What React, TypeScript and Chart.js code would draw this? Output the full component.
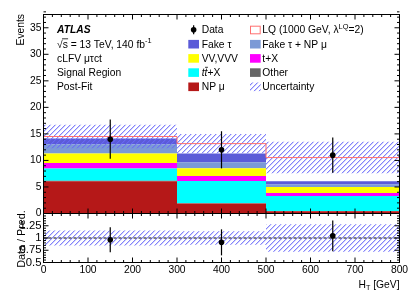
import React, { useEffect, useRef } from 'react';
import { Chart, registerables } from 'chart.js';

Chart.register(...registerables);

// ---------------- data ----------------
const binEdges = [0, 300, 500, 800];
const npMu = [6.08, 1.88, 0.43];
const otherBkg = [0.08, 0.06, 0.05];
const ttbarX = [2.31, 4.19, 2.83];
const singleTopX = [1.05, 0.94, 0.57];
const dibosonTriboson = [1.77, 1.45, 1.12];
const fakeTauNpMu = [1.75, 1.13, 0.46];
const fakeTau = [1.07, 1.64, 0.62];
const lqSignal = [0.4, 1.88, 4.46];
const totalUnc = [2.2, 1.82, 2.97];
const dataX = [150, 400, 650];
const dataY = [14, 12, 11];
const dataErr = [3.7, 3.5, 3.3];
const xTickLabels = [0, 100, 200, 300, 400, 500, 600, 700, 800];
const yMainTickLabels = [0, 5, 10, 15, 20, 25, 30, 35];
const yRatioTickLabels = [0.5, 0.75, 1, 1.25];

const FF = '"Liberation Sans", Arial, Helvetica, sans-serif';
const font = (size: number, style = '') => `${style} ${size}px ${FF}`.trim();
const FS = 10.3;

const stackDefs = [
  { label: 'NP μ', values: npMu, color: '#b51818' },
  { label: 'Other', values: otherBkg, color: '#666666' },
  { label: 'tt+X', values: ttbarX, color: '#00ffff' },
  { label: 't+X', values: singleTopX, color: '#ff00ff' },
  { label: 'VV,VVV', values: dibosonTriboson, color: '#ffff00' },
  { label: 'Fake τ + NP μ', values: fakeTauNpMu, color: '#7b9ad6' },
  { label: 'Fake τ', values: fakeTau, color: '#5b5bd8' },
];

const COLORS = {
  lq: '#ff6f6f',
  hatch: [105, 105, 250],
};

function stepPoints(vals: number[]) {
  return binEdges.map((x, i) => ({ x, y: vals[Math.min(i, vals.length - 1)] }));
}

function makeHatch(rgb: number[]) {
  const s = 5;
  const c = document.createElement('canvas');
  c.width = s;
  c.height = s;
  const g = c.getContext('2d')!;
  const img = g.createImageData(s, s);
  for (let j = 0; j < s; j++) {
    for (let i = 0; i < s; i++) {
      const k = (j * s + i) * 4;
      const m = (i + j) % s;
      img.data[k] = rgb[0];
      img.data[k + 1] = rgb[1];
      img.data[k + 2] = rgb[2];
      img.data[k + 3] = m === s - 1 ? 210 : m === 0 ? 80 : 0;
    }
  }
  g.putImageData(img, 0, 0);
  return g.createPattern(c, 'repeat')!;
}

type Seg = { t: string; f?: string; dy?: number; over?: boolean };
function drawRich(ctx: CanvasRenderingContext2D, x: number, y: number, segs: Seg[], baseFont: string) {
  let cx = x;
  for (const s of segs) {
    ctx.font = s.f || baseFont;
    ctx.fillText(s.t, cx, y + (s.dy || 0));
    const w = ctx.measureText(s.t).width;
    if (s.over) {
      ctx.save();
      ctx.lineWidth = 0.8;
      ctx.strokeStyle = ctx.fillStyle as string;
      ctx.beginPath();
      ctx.moveTo(cx + 0.5, y - 8.6);
      ctx.lineTo(cx + w + 0.5, y - 8.6);
      ctx.stroke();
      ctx.restore();
    }
    cx += w;
  }
  return cx;
}
function richWidth(ctx: CanvasRenderingContext2D, segs: Seg[], baseFont: string) {
  let w = 0;
  for (const s of segs) {
    ctx.font = s.f || baseFont;
    w += ctx.measureText(s.t).width;
  }
  return w;
}

export default function App() {
  const ref = useRef<HTMLCanvasElement>(null);

  useEffect(() => {
    const canvas = ref.current!;
    const hatch = makeHatch(COLORS.hatch);

    // cumulative stack
    let cum = [0, 0, 0];
    const stackDatasets: any[] = stackDefs.map((d, i) => {
      cum = cum.map((c, j) => c + d.values[j]);
      return {
        type: 'line',
        label: d.label,
        data: stepPoints(cum),
        yAxisID: 'y',
        stepped: 'before',
        fill: i === 0 ? 'origin' : '-1',
        backgroundColor: d.color,
        borderWidth: 0,
        pointRadius: 0,
        order: 5,
      };
    });
    const bkgTotal = cum.slice();
    const pred = bkgTotal.map((b, i) => b + lqSignal[i]);

    const datasets: any[] = [
      ...stackDatasets,
      {
        type: 'line', label: 'uncLow', data: stepPoints(pred.map((p, i) => p - totalUnc[i])),
        yAxisID: 'y', stepped: 'before', fill: false, borderWidth: 0, pointRadius: 0, order: 3,
      },
      {
        type: 'line', label: 'Uncertainty', data: stepPoints(pred.map((p, i) => p + totalUnc[i])),
        yAxisID: 'y', stepped: 'before', fill: '-1', backgroundColor: hatch, borderWidth: 0, pointRadius: 0, order: 3,
      },
      {
        type: 'line', label: 'LQ', data: stepPoints(pred), yAxisID: 'y', stepped: 'before', fill: false,
        borderColor: COLORS.lq, borderWidth: 1, pointRadius: 0, order: 2,
      },
      {
        type: 'line', label: 'Data', data: dataX.map((x, i) => ({ x, y: dataY[i] })), yAxisID: 'y',
        showLine: false, pointRadius: 2.8, pointBackgroundColor: '#000', pointBorderWidth: 0, order: 0,
      },
      // ratio panel
      {
        type: 'line', label: 'rUncLow', data: stepPoints(pred.map((p, i) => 1 - totalUnc[i] / p)),
        yAxisID: 'yr', stepped: 'before', fill: false, borderWidth: 0, pointRadius: 0, order: 3,
      },
      {
        type: 'line', label: 'rUncHigh', data: stepPoints(pred.map((p, i) => 1 + totalUnc[i] / p)),
        yAxisID: 'yr', stepped: 'before', fill: '-1', backgroundColor: hatch, borderWidth: 0, pointRadius: 0, order: 3,
      },
      {
        type: 'line', label: 'unity', data: [{ x: binEdges[0], y: 1 }, { x: binEdges[binEdges.length - 1], y: 1 }],
        yAxisID: 'yr', fill: false, borderColor: '#000', borderWidth: 1, borderDash: [3, 2], pointRadius: 0, order: 2,
      },
      {
        type: 'line', label: 'rData', data: dataX.map((x, i) => ({ x, y: dataY[i] / pred[i] })), yAxisID: 'yr',
        showLine: false, pointRadius: 2.8, pointBackgroundColor: '#000', pointBorderWidth: 0, order: 0,
      },
    ];

    const framePlugin = {
      id: 'frameTicks',
      afterDatasetsDraw(chart: any) {
        const { ctx } = chart;
        const x = chart.scales.x, y = chart.scales.y, yr = chart.scales.yr;
        const L = x.left, R = x.right;
        ctx.save();
        ctx.strokeStyle = '#000';
        ctx.lineWidth = 1;
        const seg = (x1: number, y1: number, x2: number, y2: number) => {
          ctx.beginPath(); ctx.moveTo(x1, y1); ctx.lineTo(x2, y2); ctx.stroke();
        };
        const panels = [
          { s: y, min: 0, max: 37.5, minor: 1, major: 5 },
          { s: yr, min: 0.5, max: 1.5, minor: 0.05, major: 0.25 },
        ];
        for (const p of panels) {
          const T = p.s.top, B = p.s.bottom;
          ctx.strokeRect(L, T, R - L, B - T);
          for (let k = 0; k <= 40; k++) {
            const px = x.getPixelForValue(k * 20);
            const len = k % 5 === 0 ? 5 : 2.5;
            seg(px, B, px, B - len);
            seg(px, T, px, T + len);
          }
          const n = Math.round((p.max - p.min) / p.minor);
          for (let k = 0; k <= n; k++) {
            const v = p.min + k * p.minor;
            const r = v / p.major;
            const major = Math.abs(r - Math.round(r)) < 1e-6;
            const py = p.s.getPixelForValue(v);
            const len = major ? 5 : 2.5;
            seg(L, py, L + len, py);
            seg(R, py, R - len, py);
          }
        }
        // error bars
        ctx.lineWidth = 1.2;
        dataX.forEach((xv, i) => {
          const px = x.getPixelForValue(xv);
          seg(px, y.getPixelForValue(dataY[i] - dataErr[i]), px, y.getPixelForValue(dataY[i] + dataErr[i]));
          seg(px, yr.getPixelForValue((dataY[i] - dataErr[i]) / pred[i]), px, yr.getPixelForValue((dataY[i] + dataErr[i]) / pred[i]));
        });
        ctx.restore();
      },
    };

    const textPlugin = {
      id: 'atlasText',
      afterDraw(chart: any) {
        const ctx: CanvasRenderingContext2D = chart.ctx;
        const yr = chart.scales.yr;
        const base = font(FS);
        const sup = font(7.4);
        ctx.save();
        ctx.fillStyle = '#000';
        ctx.textBaseline = 'alphabetic';
        ctx.textAlign = 'left';
        const rows = [33.3, 47.5, 61.7, 75.9, 90.1];
        const tx = 57;
        ctx.font = font(FS, 'italic bold');
        ctx.fillText('ATLAS', tx, rows[0]);
        // sqrt(s) line
        ctx.font = base;
        ctx.fillText('√', tx, rows[1]);
        const wr = ctx.measureText('√').width;
        const ws = ctx.measureText('s').width;
        ctx.fillText('s', tx + wr, rows[1]);
        ctx.save();
        ctx.lineWidth = 0.8;
        ctx.strokeStyle = '#000';
        ctx.beginPath();
        ctx.moveTo(tx + wr - 0.6, rows[1] - 8.7);
        ctx.lineTo(tx + wr + ws + 0.3, rows[1] - 8.7);
        ctx.stroke();
        ctx.restore();
        drawRich(ctx, tx + wr + ws, rows[1], [
          { t: ' = 13 TeV, 140 fb' },
          { t: '-1', f: sup, dy: -4.2 },
        ], base);
        ctx.font = base;
        ctx.fillText('cLFV μτct', tx, rows[2]);
        ctx.fillText('Signal Region', tx, rows[3]);
        ctx.fillText('Post-Fit', tx, rows[4]);

        // legend
        const c1b = 188.3, c1t = 201.7, c2b = 250, c2t = 262.3;
        const bw = 10.7, bh = 8.6;
        const box = (bx: number, by: number, fill: any) => {
          ctx.fillStyle = fill;
          ctx.fillRect(bx, by - 7.6, bw, bh);
          ctx.fillStyle = '#000';
        };
        // Data marker
        const mx = c1b + bw / 2, my = rows[0] - 3.6;
        ctx.beginPath();
        ctx.arc(mx, my, 2.8, 0, Math.PI * 2);
        ctx.fill();
        ctx.save();
        ctx.lineWidth = 1.2;
        ctx.strokeStyle = '#000';
        ctx.beginPath();
        ctx.moveTo(mx, my - 4.5);
        ctx.lineTo(mx, my + 4.5);
        ctx.stroke();
        ctx.restore();
        ctx.font = base;
        ctx.fillText('Data', c1t, rows[0]);
        box(c1b, rows[1], '#5b5bd8');
        ctx.font = base;
        ctx.fillText('Fake τ', c1t, rows[1]);
        box(c1b, rows[2], '#ffff00');
        ctx.fillText('VV,VVV', c1t, rows[2]);
        box(c1b, rows[3], '#00ffff');
        drawRich(ctx, c1t, rows[3], [
          { t: 't', f: font(FS, 'italic') },
          { t: 't', f: font(FS, 'italic'), over: true },
          { t: '+X' },
        ], base);
        box(c1b, rows[4], '#b51818');
        ctx.font = base;
        ctx.fillText('NP μ', c1t, rows[4]);

        // column 2
        ctx.save();
        ctx.strokeStyle = COLORS.lq;
        ctx.lineWidth = 1;
        ctx.strokeRect(c2b + 0.5, rows[0] - 7.6 + 0.5, bw - 1, bh - 1);
        ctx.restore();
        drawRich(ctx, c2t, rows[0], [
          { t: 'LQ (1000 GeV, λ' },
          { t: 'LQ', f: sup, dy: -4.2 },
          { t: '=2)' },
        ], base);
        box(c2b, rows[1], '#7b9ad6');
        ctx.font = base;
        ctx.fillText('Fake τ + NP μ', c2t, rows[1]);
        box(c2b, rows[2], '#ff00ff');
        ctx.fillText('t+X', c2t, rows[2]);
        box(c2b, rows[3], '#666666');
        ctx.fillText('Other', c2t, rows[3]);
        box(c2b, rows[4], hatch);
        ctx.font = base;
        ctx.fillText('Uncertainty', c2t, rows[4]);

        // axis titles
        ctx.font = base;
        ctx.save();
        ctx.translate(24, chart.scales.y.top - 0.5);
        ctx.rotate(-Math.PI / 2);
        ctx.textAlign = 'right';
        ctx.fillText('Events', 0, 0);
        ctx.restore();
        ctx.save();
        ctx.font = font(10.8);
        ctx.translate(24.5, (yr.top + yr.bottom) / 2 + 1);
        ctx.rotate(-Math.PI / 2);
        ctx.textAlign = 'center';
        ctx.fillText('Data / Pred.', 0, 0);
        ctx.restore();

        const xsegs: Seg[] = [
          { t: 'H' },
          { t: 'T', f: font(7.2), dy: 2.4 },
          { t: ' [GeV]' },
        ];
        const w = richWidth(ctx, xsegs, base);
        drawRich(ctx, chart.scales.x.right - w, 288, xsegs, base);
        ctx.restore();
      },
    };

    const tickFont = { family: FF, size: FS };
    const chart = new Chart(canvas, {
      type: 'line',
      data: { datasets },
      options: {
        responsive: false,
        animation: false,
        events: [],
        layout: { padding: { top: 14.5, right: 15.5, left: 0, bottom: 0 } },
        plugins: { legend: { display: false }, tooltip: { enabled: false }, title: { display: false } },
        scales: {
          x: {
            type: 'linear', position: 'bottom', min: 0, max: 800,
            grid: { display: false, drawTicks: false }, border: { display: false },
            ticks: { font: tickFont, color: '#000', padding: 1, maxRotation: 0, autoSkip: false, callback: (v: any) => String(v) },
            afterBuildTicks: (s: any) => { s.ticks = xTickLabels.map((v) => ({ value: v })); },
            afterFit: (s: any) => { s.height = 35.5; },
          },
          yr: {
            type: 'linear', position: 'left', stack: 'panels', stackWeight: 49, min: 0.5, max: 1.5,
            grid: { display: false, drawTicks: false }, border: { display: false },
            ticks: { font: { family: FF, size: 11.3 }, color: '#000', padding: 2, autoSkip: false, callback: (v: any) => String(v) },
            afterBuildTicks: (s: any) => { s.ticks = yRatioTickLabels.map((v) => ({ value: v })); },
            afterFit: (s: any) => { s.width = 43.5; },
          },
          y: {
            type: 'linear', position: 'left', stack: 'panels', stackWeight: 199, min: 0, max: 37.5,
            grid: { display: false, drawTicks: false }, border: { display: false },
            ticks: { font: tickFont, color: '#000', padding: 2, autoSkip: false, callback: (v: any) => String(v) },
            afterBuildTicks: (s: any) => { s.ticks = yMainTickLabels.map((v) => ({ value: v })); },
            afterFit: (s: any) => { s.width = 43.5; },
          },
        },
      } as any,
      plugins: [framePlugin, textPlugin],
    });
    return () => chart.destroy();
  }, []);

  return (
    <div style={{ position: 'fixed', left: 0, top: 0, width: 415, height: 298, background: '#fff' }}>
      <canvas ref={ref} width={415} height={298} style={{ display: 'block' }} />
    </div>
  );
}
